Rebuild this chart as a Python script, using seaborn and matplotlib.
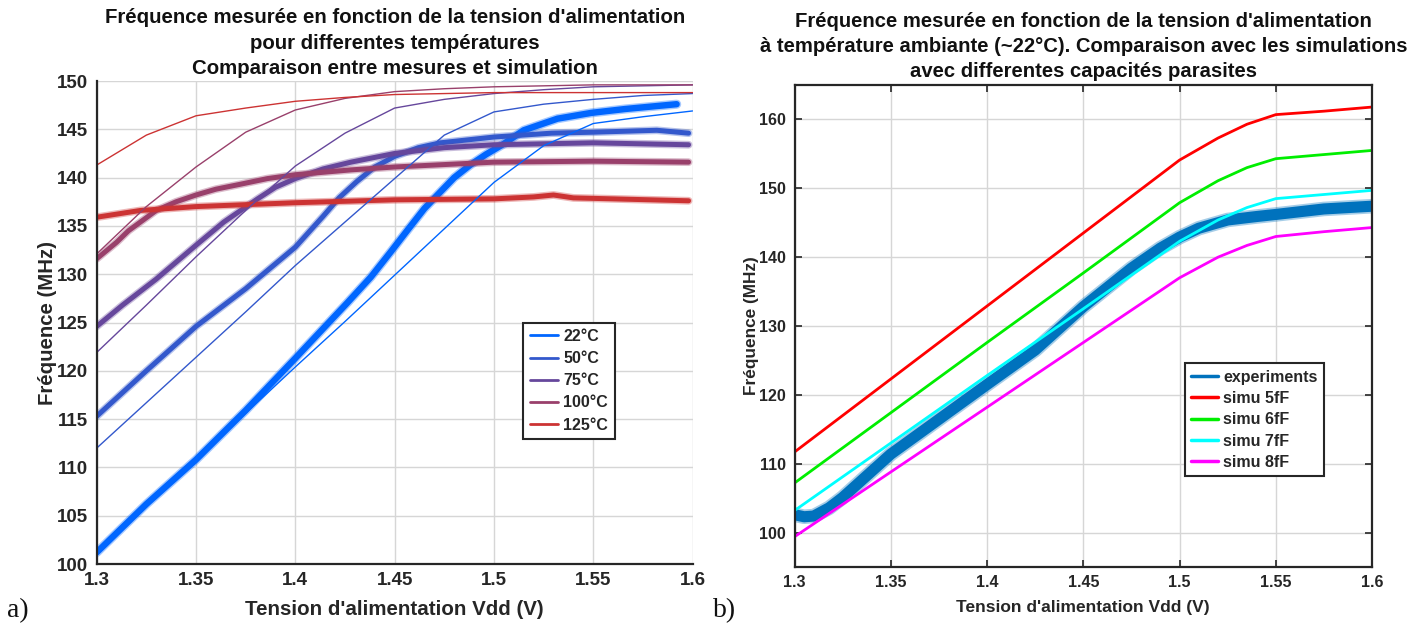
import numpy as np
import pandas as pd
import matplotlib
matplotlib.use("Agg")
import matplotlib.pyplot as plt
import seaborn as sns

# ---------------- data (left: a) ----------------
temps = ["22°C", "50°C", "75°C", "100°C", "125°C"]
temp_colors = ["#0066ff", "#3358cc", "#66479c", "#99406b", "#cc3333"]

sim_v = [1.3, 1.325, 1.35, 1.375, 1.4, 1.425, 1.45, 1.475, 1.5, 1.525, 1.55, 1.575, 1.6]
sim_22 = [101.2, 106.0, 110.8, 115.6, 120.4, 125.1, 129.9, 134.7, 139.5, 143.3, 145.6, 146.3, 146.9]
sim_50 = [112.0, 116.7, 121.4, 126.1, 130.9, 135.4, 139.9, 144.4, 146.8, 147.6, 148.1, 148.5, 148.7]
sim_75 = [121.9, 126.8, 131.8, 136.6, 141.2, 144.6, 147.2, 148.1, 148.7, 149.1, 149.4, 149.5, 149.6]
sim_100 = [132.1, 137.0, 141.1, 144.7, 147.0, 148.2, 148.9, 149.2, 149.4, 149.5, 149.6, 149.6, 149.6]
sim_125 = [141.3, 144.4, 146.4, 147.2, 147.9, 148.3, 148.6, 148.7, 148.8, 148.8, 148.8, 148.8, 148.8]

meas_22_v = [1.3, 1.325, 1.35, 1.375, 1.4, 1.426, 1.438, 1.448, 1.457, 1.465, 1.472, 1.48,
             1.488, 1.496, 1.505, 1.515, 1.532, 1.549, 1.566, 1.592]
meas_22_f = [101.2, 106.2, 110.8, 115.9, 121.3, 127.0, 129.7, 132.3, 134.7, 136.8, 138.3, 140.0,
             141.3, 142.4, 143.5, 144.9, 146.1, 146.7, 147.1, 147.6]
meas_50_v = [1.3, 1.325, 1.35, 1.375, 1.4, 1.407, 1.414, 1.422, 1.431, 1.44, 1.45, 1.462,
             1.473, 1.5, 1.529, 1.55, 1.582, 1.598]
meas_50_f = [115.3, 120.0, 124.6, 128.5, 132.8, 134.4, 136.0, 137.9, 139.6, 141.1, 142.2, 143.1,
             143.6, 144.2, 144.6, 144.7, 144.9, 144.6]
meas_75_v = [1.3, 1.313, 1.33, 1.35, 1.364, 1.381, 1.39, 1.4, 1.414, 1.428, 1.45, 1.475, 1.5,
             1.55, 1.598]
meas_75_f = [124.6, 126.8, 129.5, 133.0, 135.4, 137.8, 139.0, 139.9, 140.9, 141.6, 142.5, 143.1,
             143.4, 143.6, 143.4]
meas_100_v = [1.3, 1.31, 1.316, 1.322, 1.33, 1.34, 1.35, 1.36, 1.372, 1.386, 1.4, 1.428, 1.45,
              1.5, 1.55, 1.598]
meas_100_f = [131.6, 133.3, 134.5, 135.4, 136.6, 137.5, 138.2, 138.8, 139.3, 139.9, 140.3, 140.8,
              141.1, 141.6, 141.7, 141.6]
meas_125_v = [1.3, 1.322, 1.35, 1.4, 1.45, 1.5, 1.52, 1.53, 1.54, 1.56, 1.598]
meas_125_f = [135.9, 136.6, 137.0, 137.4, 137.7, 137.8, 138.0, 138.2, 137.9, 137.8, 137.6]

# ---------------- data (right: b) ----------------
simb_v = [1.3, 1.35, 1.4, 1.45, 1.5, 1.52, 1.535, 1.55, 1.575, 1.6]
simb_5 = [111.7, 122.3, 132.9, 143.5, 154.1, 157.3, 159.3, 160.7, 161.2, 161.8]
simb_6 = [107.2, 117.4, 127.6, 137.7, 147.9, 151.1, 153.0, 154.3, 154.9, 155.5]
simb_7 = [103.2, 113.0, 122.8, 132.5, 142.3, 145.4, 147.2, 148.5, 149.1, 149.7]
simb_8 = [99.4, 108.8, 118.2, 127.6, 137.0, 140.0, 141.7, 143.0, 143.7, 144.3]
exp_v = [1.3, 1.305, 1.31, 1.318, 1.325, 1.35, 1.4, 1.425, 1.45, 1.475, 1.49, 1.5, 1.51,
         1.525, 1.54, 1.55, 1.575, 1.6]
exp_f = [102.6, 102.3, 102.4, 103.6, 105.1, 111.4, 121.5, 126.5, 132.8, 138.4, 141.3, 142.9,
         144.2, 145.4, 145.9, 146.2, 147.0, 147.4]
simb_labels = ["simu 5fF", "simu 6fF", "simu 7fF", "simu 8fF"]
simb_colors = ["#ff0000", "#00ee00", "#00ffff", "#ff00ff"]
exp_color = "#0072bd"

xticks = [1.3, 1.35, 1.4, 1.45, 1.5, 1.55, 1.6]
xtick_labels = ["1.3", "1.35", "1.4", "1.45", "1.5", "1.55", "1.6"]

# ---------------- style ----------------
sns.set_theme(style="white")
plt.rcParams["font.family"] = ["Liberation Sans", "DejaVu Sans"]
plt.rcParams["lines.solid_capstyle"] = "round"
plt.rcParams["lines.solid_joinstyle"] = "round"

fig = plt.figure(figsize=(14.18, 6.26), dpi=100)
axa = fig.add_axes([0.0682, 0.0990, 0.4202, 0.7716])
axb = fig.add_axes([0.5603, 0.0942, 0.4073, 0.7700])

grid_kw = dict(color="#d6d6d6", linewidth=1.0)
dark = "#262626"

# ---- panel a ----
sims = [sim_22, sim_50, sim_75, sim_100, sim_125]
meas = [(meas_22_v, meas_22_f), (meas_50_v, meas_50_f), (meas_75_v, meas_75_f),
        (meas_100_v, meas_100_f), (meas_125_v, meas_125_f)]
widths = [4.6, 3.6, 3.6, 3.6, 3.6]
for lab, col, (mv, mf), lw in zip(temps, temp_colors, meas, widths):
    # soft halo to mimic the noisy, fuzzy measurement trace
    sns.lineplot(x=mv, y=mf, ax=axa, color=col, linewidth=lw + 2.0, alpha=0.35,
                 estimator=None, sort=False, label="_nolegend_")
    sns.lineplot(x=mv, y=mf, ax=axa, color=col, linewidth=lw, estimator=None,
                 sort=False, label=lab)
for col, s in zip(temp_colors, sims):
    sns.lineplot(x=sim_v, y=s, ax=axa, color=col, linewidth=1.0, estimator=None,
                 sort=False, label="_nolegend_")

axa.set_xlim(1.3, 1.6)
axa.set_ylim(100, 150)
axa.set_xticks(xticks)
axa.set_xticklabels(xtick_labels)
axa.set_yticks(np.arange(100, 151, 5))
axa.grid(True, **grid_kw)
for sp in ["top", "right"]:
    axa.spines[sp].set_visible(False)
for sp in ["left", "bottom"]:
    axa.spines[sp].set_color(dark)
    axa.spines[sp].set_linewidth(1.6)
axa.tick_params(direction="in", length=5, width=1.2, labelsize=13.5, colors=dark, pad=6)
for t in axa.get_xticklabels() + axa.get_yticklabels():
    t.set_fontweight("bold")
axa.set_xlabel("Tension d'alimentation Vdd (V)", fontsize=14.8, fontweight="bold",
               color=dark, labelpad=8)
axa.set_ylabel("Fréquence (MHz)", fontsize=14.7, fontweight="bold", color=dark,
               labelpad=0)
axa.set_title("Fréquence mesurée en fonction de la tension d'alimentation\n"
              "pour differentes températures\n"
              "Comparaison entre mesures et simulation",
              fontsize=14.7, fontweight="bold", color="#111111", pad=5, linespacing=1.42)
lega = axa.legend(loc="upper left", bbox_to_anchor=(0.716, 0.50), frameon=True,
                  fancybox=False, edgecolor=dark, framealpha=1,
                  prop=dict(weight="bold", size=11.5), handlelength=1.8,
                  handletextpad=0.3, labelspacing=0.45, borderpad=0.4, borderaxespad=0)
lega.get_frame().set_linewidth(1.5)
for h in lega.get_lines():
    h.set_linewidth(2.0)
    h.set_alpha(1.0)

# ---- panel b ----
sns.lineplot(x=exp_v, y=exp_f, ax=axb, color=exp_color, linewidth=10.5, alpha=0.35,
             estimator=None, sort=False, label="_nolegend_")
sns.lineplot(x=exp_v, y=exp_f, ax=axb, color=exp_color, linewidth=8.0, estimator=None,
             sort=False, label="experiments")
for lab, col, s in zip(simb_labels, simb_colors, [simb_5, simb_6, simb_7, simb_8]):
    sns.lineplot(x=simb_v, y=s, ax=axb, color=col, linewidth=2.0, estimator=None,
                 sort=False, label=lab)

axb.set_xlim(1.3, 1.6)
axb.set_ylim(95, 165)
axb.set_xticks(xticks)
axb.set_xticklabels(xtick_labels)
axb.set_yticks(np.arange(100, 161, 10))
axb.grid(True, **grid_kw)
for sp in axb.spines.values():
    sp.set_visible(True)
    sp.set_color(dark)
    sp.set_linewidth(1.6)
axb.tick_params(direction="in", length=5, width=1.2, labelsize=11.5, colors=dark,
                top=True, right=True, bottom=True, left=True, pad=6)
for t in axb.get_xticklabels() + axb.get_yticklabels():
    t.set_fontweight("bold")
axb.set_xlabel("Tension d'alimentation Vdd (V)", fontsize=12.5, fontweight="bold",
               color=dark, labelpad=7)
axb.set_ylabel("Fréquence (MHz)", fontsize=12.4, fontweight="bold", color=dark,
               labelpad=0)
axb.set_title("Fréquence mesurée en fonction de la tension d'alimentation\n"
              "à température ambiante (~22°C). Comparaison avec les simulations\n"
              "avec differentes capacités parasites",
              fontsize=14.6, fontweight="bold", color="#111111", pad=6, linespacing=1.4)
legb = axb.legend(loc="upper left", bbox_to_anchor=(0.676, 0.423), frameon=True,
                  fancybox=False, edgecolor=dark, framealpha=1,
                  prop=dict(weight="bold", size=11.5), handlelength=1.7,
                  handletextpad=0.3, labelspacing=0.4, borderpad=0.4, borderaxespad=0)
legb.get_frame().set_linewidth(1.5)
for h in legb.get_lines():
    h.set_linewidth(2.5)
    h.set_alpha(1.0)

# panel letters
fig.text(7 / 1418, 1 - 611 / 626, "a)", fontsize=20, family="Liberation Serif",
         ha="left", va="center", color="#111111")
fig.text(713 / 1418, 1 - 611 / 626, "b)", fontsize=20, family="Liberation Serif",
         ha="left", va="center", color="#111111")

fig.savefig("out.png", dpi=100, facecolor="white")
